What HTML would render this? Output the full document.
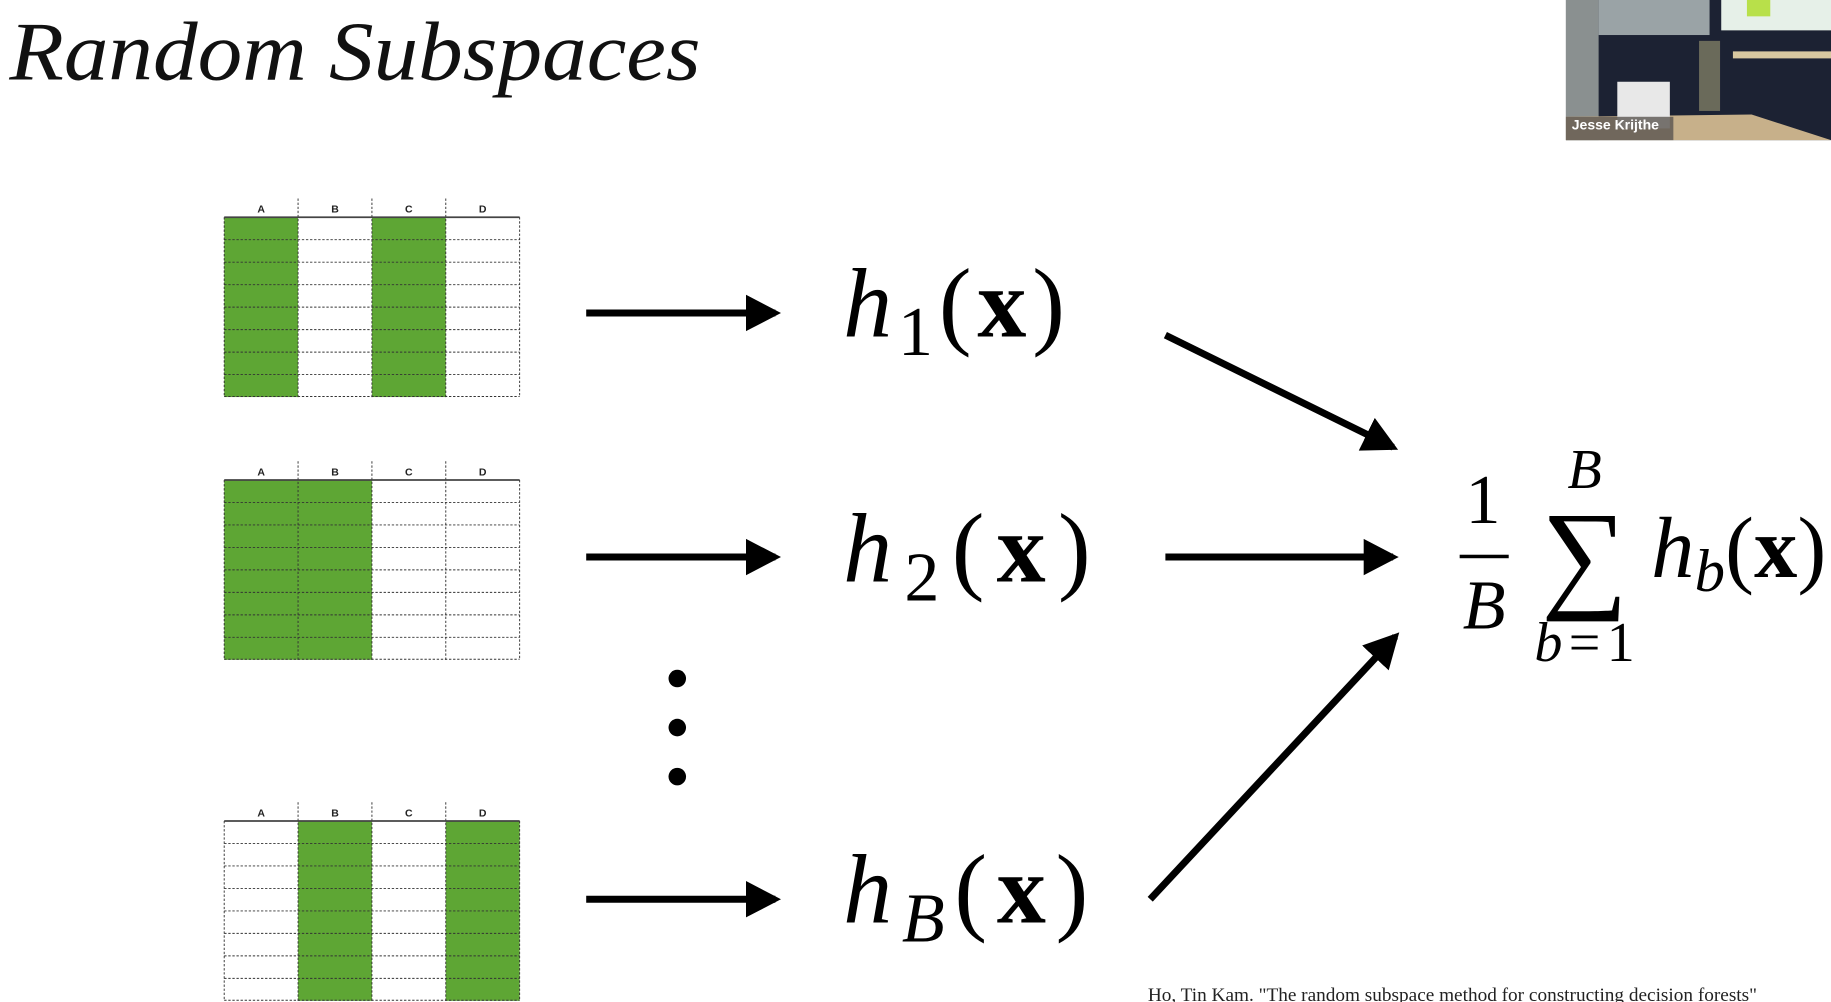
<!DOCTYPE html>
<html><head><meta charset="utf-8">
<style>
html,body{margin:0;padding:0;background:#fff;}
svg{display:block;}
.serif{font-family:"Liberation Serif",serif;}
.hd{font-family:"Liberation Sans",sans-serif;font-size:9px;font-weight:bold;fill:#222;text-anchor:middle;}
</style></head>
<body>
<svg width="1831" height="1002" viewBox="0 0 1568 858" preserveAspectRatio="none">
<defs>
<marker id="ah" markerWidth="6" markerHeight="6" refX="4.2" refY="3" orient="auto" markerUnits="strokeWidth">
<path d="M0,0.4 L5,3 L0,5.6 Z" fill="#000"/>
</marker>
</defs>
<text class="serif" x="8" y="68" font-size="72" font-style="italic" fill="#111" textLength="592" lengthAdjust="spacingAndGlyphs">Random Subspaces</text>

<g>
<rect x="1341" y="0" width="227" height="120" fill="#1c2233"/>
<rect x="1341" y="0" width="28" height="120" fill="#8a9090"/>
<rect x="1369" y="0" width="95" height="30" fill="#9aa3a6"/>
<rect x="1474" y="0" width="94" height="26" fill="#e6f0e8"/>
<rect x="1496" y="0" width="20" height="14" fill="#b8e04a"/>
<rect x="1484" y="44" width="84" height="6" fill="#d8c8a0"/>
<polygon points="1341,120 1341,100 1500,98 1568,120" fill="#c7b08a"/>
<rect x="1385" y="70" width="45" height="40" fill="#e8e8e8"/>
<rect x="1455" y="35" width="18" height="60" fill="#6a6a5a"/>
<rect x="1341" y="100" width="92" height="20" fill="#5a5550" opacity="0.8"/>
<text x="1346" y="111" font-family="Liberation Sans,sans-serif" font-weight="bold" font-size="12" fill="#fff">Jesse Krijthe</text>
</g>

<g id="tables"></g>
<g id="arrows"></g>

<g fill="#000">
<circle cx="580" cy="581" r="7.5"/><circle cx="580" cy="623" r="7.5"/><circle cx="580" cy="665" r="7.5"/>
</g>

<text class="serif" x="722" y="288" font-size="84" fill="#000" textLength="190" lengthAdjust="spacing"><tspan font-style="italic">h</tspan><tspan font-size="60" dy="16">1</tspan><tspan dy="-16">(</tspan><tspan font-weight="bold">x</tspan>)</text>
<text class="serif" x="722" y="498" font-size="84" fill="#000" textLength="212" lengthAdjust="spacing"><tspan font-style="italic">h</tspan><tspan font-size="60" dy="16">2</tspan><tspan dy="-16">(</tspan><tspan font-weight="bold">x</tspan>)</text>
<text class="serif" x="722" y="790" font-size="84" fill="#000" textLength="210" lengthAdjust="spacing"><tspan font-style="italic">h</tspan><tspan font-size="60" font-style="italic" dy="16">B</tspan><tspan dy="-16">(</tspan><tspan font-weight="bold">x</tspan>)</text>

<g class="serif" fill="#000">
<text x="1270" y="448" font-size="60" text-anchor="middle">1</text>
<rect x="1250" y="475" width="42" height="3"/>
<text x="1271" y="538" font-size="60" font-style="italic" text-anchor="middle">B</text>
<text x="1357" y="418" font-size="48" font-style="italic" text-anchor="middle">B</text>
<text x="1357" y="510" font-size="104" text-anchor="middle">∑</text>
<text x="1357" y="566" font-size="48" text-anchor="middle" textLength="86" lengthAdjust="spacing"><tspan font-style="italic">b</tspan>=1</text>
<text x="1414" y="494" font-size="74" textLength="150" lengthAdjust="spacing"><tspan font-style="italic">h</tspan><tspan font-size="52" font-style="italic" dy="12">b</tspan><tspan dy="-12">(</tspan><tspan font-weight="bold">x</tspan>)</text>
</g>

<text class="serif" x="983" y="857" font-size="16.5" fill="#222">Ho, Tin Kam. "The random subspace method for constructing decision forests"</text>
</svg>
<script>
const tableTops = [186, 411, 703];
const greenCols = [[0, 2], [0, 1], [1, 3]];
const colLabels = ['A', 'B', 'C', 'D'];
const rowCount = 8;
const NS = 'http://www.w3.org/2000/svg';
const tg = document.getElementById('tables');
function mk(tag, attrs, parent) {
  const e = document.createElementNS(NS, tag);
  for (const k in attrs) e.setAttribute(k, attrs[k]);
  parent.appendChild(e);
  return e;
}
const x0 = 192, cw = 63.25, th = 154;
tableTops.forEach((top, ti) => {
  const g = mk('g', {}, tg);
  
  
  greenCols[ti].forEach(c => {
    const r = mk('rect', {x: x0 + c * cw, y: top, width: cw, height: th, fill: '#5ea634'}, g);
    
    
  });
  for (let r = 1; r <= rowCount; r++) {
    const y = top + r * th / rowCount - (r === rowCount ? 0.5 : 0);
    mk('line', {x1: x0, x2: x0 + 4 * cw, y1: y, y2: y, stroke: '#333', 'stroke-width': 0.8, 'stroke-dasharray': '2 1.5'}, g);
  }
  for (let c = 0; c <= 4; c++) {
    const inner = c > 0 && c < 4;
    mk('line', {x1: x0 + c * cw, x2: x0 + c * cw, y1: inner ? top - 16 : top, y2: top + th, stroke: '#333', 'stroke-width': 0.8, 'stroke-dasharray': '2 1.5'}, g);
  }
  mk('line', {x1: x0, x2: x0 + 4 * cw, y1: top, y2: top, stroke: '#444', 'stroke-width': 1.5}, g);
  colLabels.forEach((l, c) => {
    const t = mk('text', {x: x0 + c * cw + cw / 2, y: top - 4, class: 'hd'}, g);
    t.textContent = l;
    
    
  });
});
const arrowSegs = [[502,268,664,268],[502,477,664,477],[502,770,664,770],[998,287,1193,383],[998,477,1193,477],[985,770,1195,545]];
const ag = document.getElementById('arrows');
arrowSegs.forEach((s, i) => {
  const l = mk('line', {x1: s[0], y1: s[1], x2: s[2], y2: s[3], stroke: '#000', 'stroke-width': 6, 'marker-end': 'url(#ah)'}, ag);
  
  
});
</script>
</body></html>
